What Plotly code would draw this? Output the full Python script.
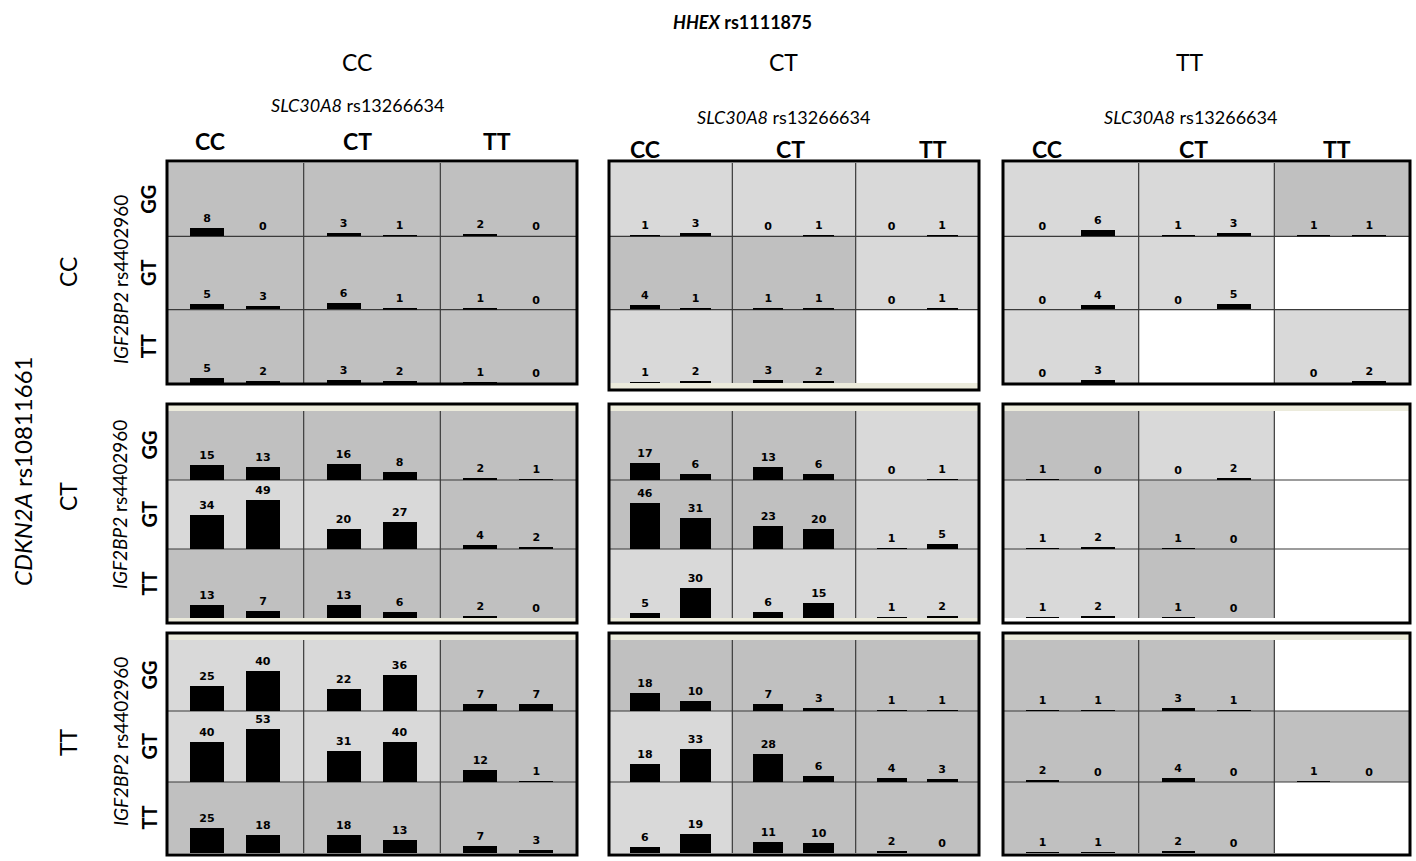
import plotly.graph_objects as go

W, H = 1416, 861

# Genotype labels
hhex_genotypes = ["CC", "CT", "TT"]          # panel columns (HHEX rs1111875)
cdkn2a_genotypes = ["CC", "CT", "TT"]        # panel rows (CDKN2A rs10811661)
slc30a8_genotypes = ["CC", "CT", "TT"]       # cell columns (SLC30A8 rs13266634)
igf2bp2_genotypes = ["GG", "GT", "TT"]       # cell rows (IGF2BP2 rs4402960)

# (cases, controls) per cell; rows = IGF2BP2 GG/GT/TT, cols = SLC30A8 CC/CT/TT; None = no subjects
counts_cdkn2a_CC_hhex_CC = [[(8, 0), (3, 1), (2, 0)], [(5, 3), (6, 1), (1, 0)], [(5, 2), (3, 2), (1, 0)]]
counts_cdkn2a_CC_hhex_CT = [[(1, 3), (0, 1), (0, 1)], [(4, 1), (1, 1), (0, 1)], [(1, 2), (3, 2), None]]
counts_cdkn2a_CC_hhex_TT = [[(0, 6), (1, 3), (1, 1)], [(0, 4), (0, 5), None], [(0, 3), None, (0, 2)]]
counts_cdkn2a_CT_hhex_CC = [[(15, 13), (16, 8), (2, 1)], [(34, 49), (20, 27), (4, 2)], [(13, 7), (13, 6), (2, 0)]]
counts_cdkn2a_CT_hhex_CT = [[(17, 6), (13, 6), (0, 1)], [(46, 31), (23, 20), (1, 5)], [(5, 30), (6, 15), (1, 2)]]
counts_cdkn2a_CT_hhex_TT = [[(1, 0), (0, 2), None], [(1, 2), (1, 0), None], [(1, 2), (1, 0), None]]
counts_cdkn2a_TT_hhex_CC = [[(25, 40), (22, 36), (7, 7)], [(40, 53), (31, 40), (12, 1)], [(25, 18), (18, 13), (7, 3)]]
counts_cdkn2a_TT_hhex_CT = [[(18, 10), (7, 3), (1, 1)], [(18, 33), (28, 6), (4, 3)], [(6, 19), (11, 10), (2, 0)]]
counts_cdkn2a_TT_hhex_TT = [[(1, 1), (3, 1), None], [(2, 0), (4, 0), (1, 0)], [(1, 1), (2, 0), None]]

# Risk class per cell: "high", "low" or "none" (empty combination)
risk_cdkn2a_CC_hhex_CC = [["high", "high", "high"], ["high", "high", "high"], ["high", "high", "high"]]
risk_cdkn2a_CC_hhex_CT = [["low", "low", "low"], ["high", "high", "low"], ["low", "high", "none"]]
risk_cdkn2a_CC_hhex_TT = [["low", "low", "high"], ["low", "low", "none"], ["low", "none", "low"]]
risk_cdkn2a_CT_hhex_CC = [["high", "high", "high"], ["low", "low", "high"], ["high", "high", "high"]]
risk_cdkn2a_CT_hhex_CT = [["high", "high", "low"], ["high", "high", "low"], ["low", "low", "low"]]
risk_cdkn2a_CT_hhex_TT = [["high", "low", "none"], ["low", "high", "none"], ["low", "high", "none"]]
risk_cdkn2a_TT_hhex_CC = [["low", "low", "high"], ["low", "low", "high"], ["high", "high", "high"]]
risk_cdkn2a_TT_hhex_CT = [["high", "high", "high"], ["low", "high", "high"], ["low", "high", "high"]]
risk_cdkn2a_TT_hhex_TT = [["high", "high", "none"], ["high", "high", "high"], ["high", "high", "none"]]

counts = [
    [counts_cdkn2a_CC_hhex_CC, counts_cdkn2a_CC_hhex_CT, counts_cdkn2a_CC_hhex_TT],
    [counts_cdkn2a_CT_hhex_CC, counts_cdkn2a_CT_hhex_CT, counts_cdkn2a_CT_hhex_TT],
    [counts_cdkn2a_TT_hhex_CC, counts_cdkn2a_TT_hhex_CT, counts_cdkn2a_TT_hhex_TT],
]
risk = [
    [risk_cdkn2a_CC_hhex_CC, risk_cdkn2a_CC_hhex_CT, risk_cdkn2a_CC_hhex_TT],
    [risk_cdkn2a_CT_hhex_CC, risk_cdkn2a_CT_hhex_CT, risk_cdkn2a_CT_hhex_TT],
    [risk_cdkn2a_TT_hhex_CC, risk_cdkn2a_TT_hhex_CT, risk_cdkn2a_TT_hhex_TT],
]

RISK_COLORS = {"high": "#c0c0c0", "low": "#d9d9d9", "none": "#ffffff"}
STRIP = "#ecebdc"
TEXT_FONT = "Lato, 'Open Sans', sans-serif"
BAR_FONT = "'DejaVu Sans', Arial, sans-serif"

# Page layout in pixels
panel_x = [(167, 577), (609, 979), (1003, 1410)]
panel_border_y = [(161, 384), (404, 623), (633, 855)]
cell_y = [(163, 383), (411, 618), (640, 853)]
PX_PER_UNIT = 1.0


def fx(px):
    return px / W


def fy(py):
    return 1 - py / H


fig = go.Figure()
shapes = []
annotations = []
axes = {}


def rect(x0, y0, x1, y1, fill=None, line_color=None, line_width=0, layer="below"):
    shapes.append(dict(
        type="rect", xref="paper", yref="paper",
        x0=fx(x0), x1=fx(x1), y0=fy(y1), y1=fy(y0),
        fillcolor=fill if fill else "rgba(0,0,0,0)",
        line=dict(color=line_color if line_color else "rgba(0,0,0,0)", width=line_width),
        layer=layer,
    ))


def line(x0, y0, x1, y1, color="#3a3a3a", width=1.2, layer="below"):
    shapes.append(dict(
        type="line", xref="paper", yref="paper",
        x0=fx(x0), x1=fx(x1), y0=fy(y0), y1=fy(y1),
        line=dict(color=color, width=width), layer=layer,
    ))


n = 0
for r in range(3):
    for c in range(3):
        px0, px1 = panel_x[c]
        cy0, cy1 = cell_y[r]
        by0, by1 = panel_border_y[r]
        if (r, c) == (0, 1):
            by1 = 390
        cw = (px1 - px0) / 3
        ch = (cy1 - cy0) / 3

        # thin bevel strips along panel edges
        if r > 0:
            rect(px0, by0, px1, cy0, fill=STRIP)
        if (r, c) in [(0, 1), (1, 0), (1, 1)]:
            rect(px0, cy1, px1, by1, fill=STRIP)

        for i in range(3):
            for j in range(3):
                x0 = px0 + j * cw
                x1 = x0 + cw
                y0 = cy0 + i * ch
                y1 = y0 + ch
                rect(x0, y0, x1, y1, fill=RISK_COLORS[risk[r][c][i][j]])

                n += 1
                sfx = "" if n == 1 else str(n)
                axes["xaxis" + sfx] = dict(
                    domain=[fx(x0), fx(x1)], range=[-0.71, 1.73], visible=False,
                    fixedrange=True, anchor="y" + sfx,
                )
                axes["yaxis" + sfx] = dict(
                    domain=[fy(y1), fy(y0)], range=[0, ch / PX_PER_UNIT], visible=False,
                    fixedrange=True, anchor="x" + sfx,
                )
                cell = counts[r][c][i][j]
                if cell is None:
                    continue
                fig.add_trace(go.Bar(
                    x=[0, 1], y=list(cell), xaxis="x" + sfx, yaxis="y" + sfx,
                    width=0.6, marker=dict(color="black", line=dict(width=0)),
                    texttemplate="%{y}", textposition="outside", cliponaxis=False,
                    constraintext="none",
                    textfont=dict(family=BAR_FONT, size=11, color="black", weight="bold"),
                    hoverinfo="skip", showlegend=False,
                ))

        # cell dividers
        for k in (1, 2):
            line(px0 + k * cw, cy0, px0 + k * cw, cy1)
            line(px0, cy0 + k * ch, px1, cy0 + k * ch)
        # panel frame
        rect(px0, by0, px1, by1, line_color="black", line_width=3, layer="above")


def text(x, y, s, size, angle=0, xanchor="center"):
    annotations.append(dict(
        x=fx(x), y=fy(y), xref="paper", yref="paper", text=s, showarrow=False,
        font=dict(family=TEXT_FONT, size=size, color="black"),
        textangle=angle, xanchor=xanchor, yanchor="middle",
    ))


# top headings
text(742, 22, "<b><i>HHEX</i> rs1111875</b>", 18)
hhex_x = [357, 783, 1190]
slc_y = [105, 117, 117]
col_label_y = [141, 149, 149]
col_label_x = [[210, 357, 497], [645, 790, 933], [1047, 1193, 1337]]
for c in range(3):
    text(hhex_x[c], 62, hhex_genotypes[c], 23)
    text(hhex_x[c], slc_y[c], "<i>SLC30A8</i> rs13266634", 18)
    for j in range(3):
        text(col_label_x[c][j], col_label_y[c], "<b>" + slc30a8_genotypes[j] + "</b>", 23)

# left headings
text(22, 472, "<i>CDKN2A</i> rs10811661", 24, angle=-90)
row_label_y = [272, 497, 742]
igf_label_y = [280, 505, 742]
for r in range(3):
    text(68, row_label_y[r], cdkn2a_genotypes[r], 23, angle=-90)
    text(120, igf_label_y[r], "<i>IGF2BP2</i> rs4402960", 19, angle=-90)
    cy0, cy1 = cell_y[r]
    ch = (cy1 - cy0) / 3
    for i in range(3):
        text(148, cy0 + (i + 0.5) * ch, "<b>" + igf2bp2_genotypes[i] + "</b>", 20, angle=-90)

fig.update_layout(
    width=W, height=H, autosize=False,
    margin=dict(l=0, r=0, t=0, b=0),
    paper_bgcolor="white", plot_bgcolor="rgba(0,0,0,0)",
    showlegend=False, bargap=0,
    shapes=shapes, annotations=annotations,
    **axes,
)

fig.write_html("out.html")
